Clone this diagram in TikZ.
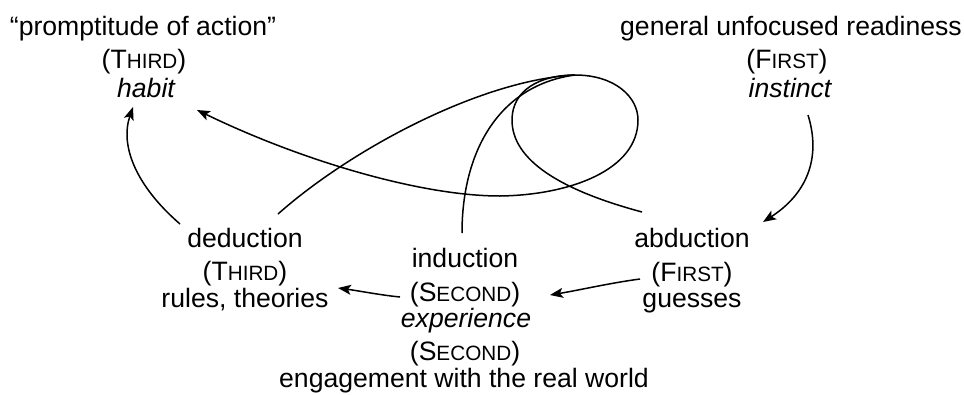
\documentclass[tikz,border=0pt]{standalone}
\usepackage{fontspec}
\setmainfont{Liberation Sans}
\usetikzlibrary{arrows.meta}
\newcommand{\fsc}[2]{#1{\fontsize{20.7pt}{20.7pt}\selectfont #2}}
\begin{document}
\begin{tikzpicture}[x=1pt,y=-1pt,
  lbl/.style={anchor=base, inner sep=0pt, font=\fontsize{26.6pt}{30pt}\selectfont},
  ln/.style={line width=1.5pt},
  arr/.style={line width=1.5pt, -{Stealth[length=13pt,width=10pt,inset=3pt]}}]
\useasboundingbox (0,0) rectangle (964,394);
% top left
\node[lbl] (tl1) at (143,35) {“promptitude of action”};
\node[lbl] (tl2) at (144,68) {(\fsc{T}{HIRD})};
\node[lbl, font=\fontsize{26.6pt}{30pt}\selectfont\itshape] (habit) at (146,97) {habit};
% top right
\node[lbl] (tr1) at (791,35) {general unfocused readiness};
\node[lbl] (tr2) at (787,68) {(\fsc{F}{IRST})};
\node[lbl, font=\fontsize{26.6pt}{30pt}\selectfont\itshape] (instinct) at (790,97) {instinct};
% deduction
\node[lbl] (ded) at (245,247) {deduction};
\node[lbl] (d2) at (245,280) {(\fsc{T}{HIRD})};
\node[lbl] (d3) at (245,307) {rules, theories};
% induction
\node[lbl] (ind) at (465,267) {induction};
\node[lbl] (i2) at (465,301) {(\fsc{S}{ECOND})};
\node[lbl, font=\fontsize{26.6pt}{30pt}\selectfont\itshape] (i3) at (466,327) {experience};
\node[lbl] (i4) at (465,360) {(\fsc{S}{ECOND})};
\node[lbl] (i5) at (464,387) {engagement with the real world};
% abduction
\node[lbl] (abd) at (692,247) {abduction};
\node[lbl] (a2) at (692,281) {(\fsc{F}{IRST})};
\node[lbl] (a3) at (692,307) {guesses};
% connector end points
\coordinate (habitL) at (133,107);
\coordinate (habitR) at (197,110);
\coordinate (dedL) at (180,224);
\coordinate (dedR) at (278,214);
\coordinate (indT) at (462,233);
\coordinate (indR) at (550,295);
\coordinate (indL) at (400,297);
\coordinate (dedRR) at (338,288);
\coordinate (abdT) at (642,212);
\coordinate (abdL) at (640,279);
\coordinate (abdTR) at (763,222);
\coordinate (instB) at (808,115);
\coordinate (looptop) at (575,75);
% arrows
\draw[arr] (dedL) .. controls (135,185) and (120,145) .. (habitL);
\draw[arr] (instB) .. controls (822,160) and (805,195) .. (abdTR);
\draw[arr] (abdL) .. controls (610,283) and (580,290) .. (indR);
\draw[arr] (indL) .. controls (380,295) and (360,291) .. (dedRR);
% loop from abduction to habit
\draw[arr] (abdT) .. controls (560,190) and (512,160) .. (512,120)
  .. controls (512,90) and (540,75) .. (looptop)
  .. controls (615,75) and (638,97) .. (638,120)
  .. controls (638,170) and (570,195) .. (500,196)
  .. controls (420,196) and (300,160) .. (habitR);
% deduction and induction into the loop
\draw[ln] (dedR) .. controls (350,150) and (480,80) .. (looptop);
\draw[ln] (indT) .. controls (462,150) and (500,85) .. (looptop);
\end{tikzpicture}
\end{document}
